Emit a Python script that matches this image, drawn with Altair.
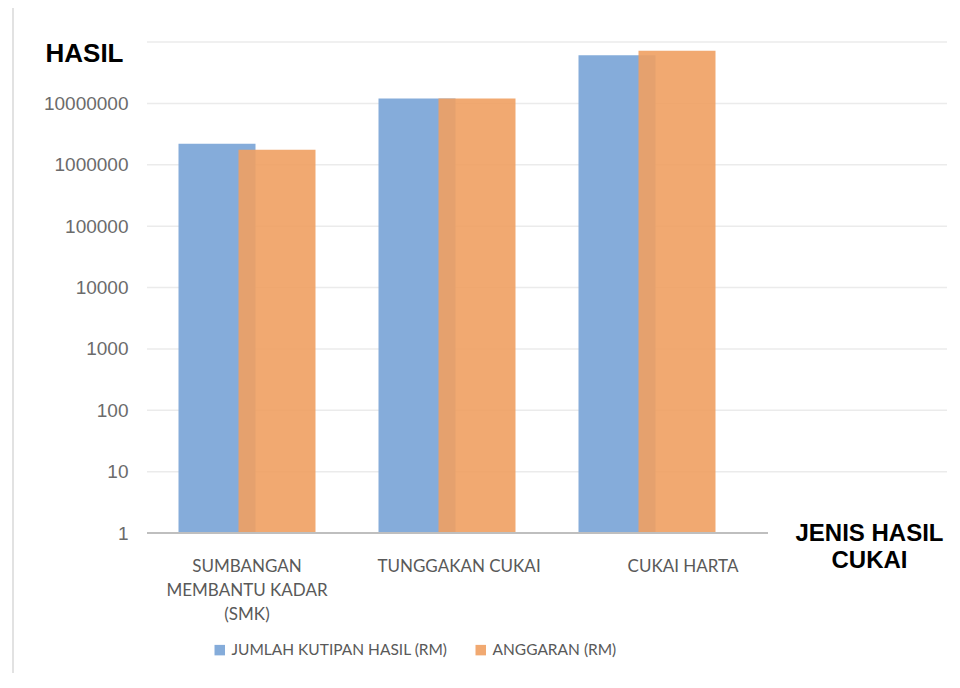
import altair as alt
import pandas as pd

categories = ["SUMBANGAN MEMBANTU KADAR (SMK)", "TUNGGAKAN CUKAI", "CUKAI HARTA"]
series = ["JUMLAH KUTIPAN HASIL (RM)", "ANGGARAN (RM)"]
kutipan = [2200000, 12000000, 61000000]
anggaran = [1750000, 12000000, 72000000]
y_ticks = [1, 10, 100, 1000, 10000, 100000, 1000000, 10000000, 100000000]
colors = ["#85ACDA", "#F0A062"]

rows = []
for i, s in enumerate(series):
    vals = kutipan if i == 0 else anggaran
    for c, v in zip(categories, vals):
        rows.append({"cat": c, "series": s, "value": v})
df = pd.DataFrame(rows)
grid_df = pd.DataFrame({"value": y_ticks[1:]})
base_df = pd.DataFrame({"value": y_ticks[:1]})

LABEL_FONT = "Lato, sans-serif"
BOLD_FONT = "Liberation Sans, Arial, sans-serif"

x_label_expr = (
    "datum.value == 'SUMBANGAN MEMBANTU KADAR (SMK)' ? "
    "['SUMBANGAN', 'MEMBANTU KADAR', '(SMK)'] : datum.value"
)

y_scale = alt.Scale(type="log", domain=[1, 100000000], nice=False)
y_axis = alt.Axis(
    values=y_ticks,
    labelExpr="datum.value >= 100000000 ? '' : format(datum.value, 'd')",
    domain=False,
    ticks=False,
    grid=False,
    labelFont="Liberation Sans, Arial, sans-serif",
    labelFontSize=19,
    labelColor="#6B6B6B",
    labelPadding=19,
    title="HASIL",
    titleAngle=0,
    titleX=-63,
    titleY=11,
    titleAlign="center",
    titleBaseline="middle",
    titleFont=BOLD_FONT,
    titleFontSize=26,
    titleFontWeight="bold",
    titleColor="black",
)

grid = alt.Chart(grid_df).mark_rule(color="#EBEBEB", strokeWidth=1.5).encode(
    y=alt.Y("value:Q", scale=y_scale, axis=y_axis, title="HASIL"),
    x=alt.value(0),
    x2=alt.value(800),
)

baseline = alt.Chart(base_df).mark_rule(color="#BFBFBF", strokeWidth=2).encode(
    y=alt.Y("value:Q", scale=y_scale, axis=y_axis, title="HASIL"),
    x=alt.value(0),
    x2=alt.value(621),
)

label_offset = {
    "condition": [
        {"test": "datum.value == 'CUKAI HARTA'", "value": 36},
        {"test": "datum.value == 'TUNGGAKAN CUKAI'", "value": 12},
    ],
    "value": 0,
}

bars = alt.Chart(df).mark_bar(width=77).encode(
    x=alt.X(
        "cat:N",
        sort=categories,
        scale=alt.Scale(domain=categories, range=[0, 600], paddingInner=0, paddingOuter=0),
        axis=alt.Axis(
            title=["JENIS HASIL", "CUKAI"],
            titleFont=BOLD_FONT,
            titleFontSize=24,
            titleFontWeight="bold",
            titleColor="black",
            titleX=722,
            titleY=-12,
            titleAlign="center",
            titleBaseline="top",
            titleLineHeight=27,
            labelAngle=0,
            labelExpr=x_label_expr,
            labelFont=LABEL_FONT,
            labelFontSize=17,
            labelLineHeight=24,
            labelColor="#595959",
            labelPadding=25,
            labelLimit=0,
            labelOffset=label_offset,
            ticks=False,
            domain=False,
            grid=False,
        ),
    ),
    xOffset=alt.XOffset("series:N", sort=series, scale=alt.Scale(domain=series, range=[40, 160])),
    y=alt.Y("value:Q", stack=None, scale=y_scale, axis=y_axis, title="HASIL"),
    color=alt.Color(
        "series:N",
        sort=series,
        scale=alt.Scale(domain=series, range=colors),
        legend=alt.Legend(
            title=None,
            orient="none",
            legendX=65,
            legendY=600,
            direction="horizontal",
            symbolType="square",
            symbolSize=110,
            symbolStrokeWidth=0,
            labelFont=LABEL_FONT,
            labelFontSize=15.5,
            labelColor="#595959",
            labelLimit=0,
            columnPadding=25,
            labelOffset=4,
        ),
    ),
    opacity=alt.Opacity("series:N", sort=series, scale=alt.Scale(domain=series, range=[1, 0.9]), legend=None),
)

frame = alt.Chart(pd.DataFrame({"a": [0]})).mark_rule(color="#D9D9D9", strokeWidth=1.5).encode(
    x=alt.value(-134), y=alt.value(-42), y2=alt.value(646)
)

chart = alt.layer(frame, grid, bars, baseline).properties(
    width=800,
    height=491,
    autosize=alt.AutoSizeParams(type="none"),
    padding={"left": 139, "top": 34, "right": 5, "bottom": 140},
    background="white",
).configure_view(stroke=None)

chart.save("out.html", embed_options={"renderer": "svg", "actions": False})
